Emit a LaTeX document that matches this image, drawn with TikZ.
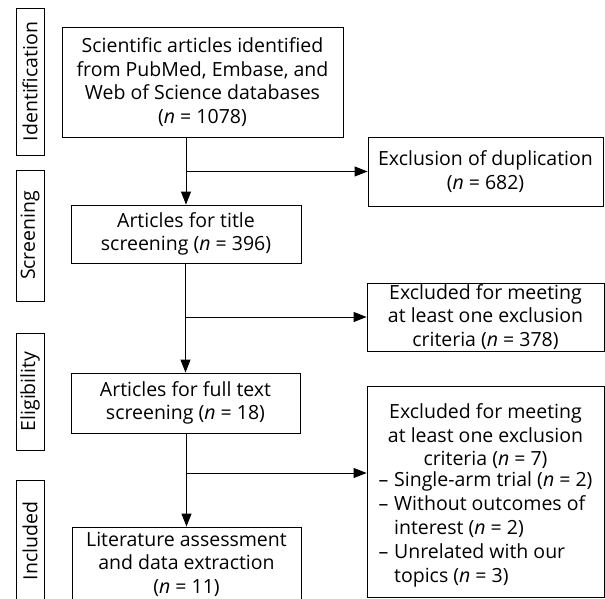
\documentclass[tikz,border=0pt]{standalone}
\usepackage{fontspec}
\setmainfont{Open Sans}
\usetikzlibrary{arrows.meta}
\begin{document}
\begin{tikzpicture}[x=1pt,y=-1pt,
  box/.style={draw, line width=0.9pt, align=center, inner sep=0pt, font=\fontsize{19.5}{23.5}\selectfont},
  side/.style={draw, line width=0.9pt, rotate=90, inner sep=0pt, minimum height=28pt, font=\fontsize{19.5}{22}\selectfont},
  line/.style={line width=0.9pt},
  arr/.style={line width=0.9pt, -{Triangle[length=13pt,width=10pt]}}]
\useasboundingbox (0,0) rectangle (605,599);
\begin{scope}
\clip (0,0) rectangle (605,599);
% side labels
\node[side, minimum width=147pt] (sid) at (30,81.5) {Identification};
\node[side, minimum width=131pt] (ssc) at (30,235.5) {Screening};
\node[side, minimum width=117pt] (sel) at (30,391.5) {Eligibility};
\node[side, minimum width=122pt] (sin) at (30,541) {Included};
% main column
\node[box, minimum width=281pt, minimum height=110pt] (b1) at (202.5,82) {Scientific articles identified\\from PubMed, Embase, and\\Web of Science databases\\(\textit{n} = 1078)};
\node[box, minimum width=230pt, minimum height=58pt] (b2) at (186,234) {Articles for title\\screening (\textit{n} = 396)};
\node[box, minimum width=229pt, minimum height=60pt] (b3) at (185.5,403) {Articles for full text\\screening (\textit{n} = 18)};
\node[box, minimum width=229pt, minimum height=74pt] (b4) at (186.5,564) {Literature assessment\\and data extraction\\(\textit{n} = 11)};
% right column
\node[box, minimum width=235pt, minimum height=69pt] (r1) at (485.5,171.5) {Exclusion of duplication\\(\textit{n} = 682)};
\node[box, minimum width=237pt, minimum height=68pt] (r2) at (485.5,317) {Excluded for meeting\\at least one exclusion\\criteria (\textit{n} = 378)};
\node[box, minimum width=237pt, minimum height=211pt] (r3) at (485.5,491.5) {\rule{0pt}{25pt}Excluded for meeting\\at least one exclusion\\criteria (\textit{n} = 7)\\
\renewcommand\arraystretch{1.02}%
\begin{tabular}{@{}l@{}l@{}}
--\kern0.3em&Single-arm trial (\textit{n} = 2)\\
--\kern0.3em&Without outcomes of\\
&interest (\textit{n} = 2)\\
--\kern0.3em&Unrelated with our\\
&topics (\textit{n} = 3)
\end{tabular}};
% connectors
\draw[arr] (b1.south -| b2.north) -- (b2.north);
\draw[arr] (b2.south -| b3.north) -- (b3.north);
\draw[arr] (b3.south -| b4.north) -- (b4.north);
\coordinate (j1) at (b2.north |- r1.west);
\coordinate (j2) at (b3.north |- r2.west);
\coordinate (j3) at (186,473);
\draw[arr] (j1) -- (r1.west);
\draw[arr] (j2) -- (r2.west);
\draw[arr] (j3) -- (j3 -| r3.west);
\end{scope}
\end{tikzpicture}
\end{document}
